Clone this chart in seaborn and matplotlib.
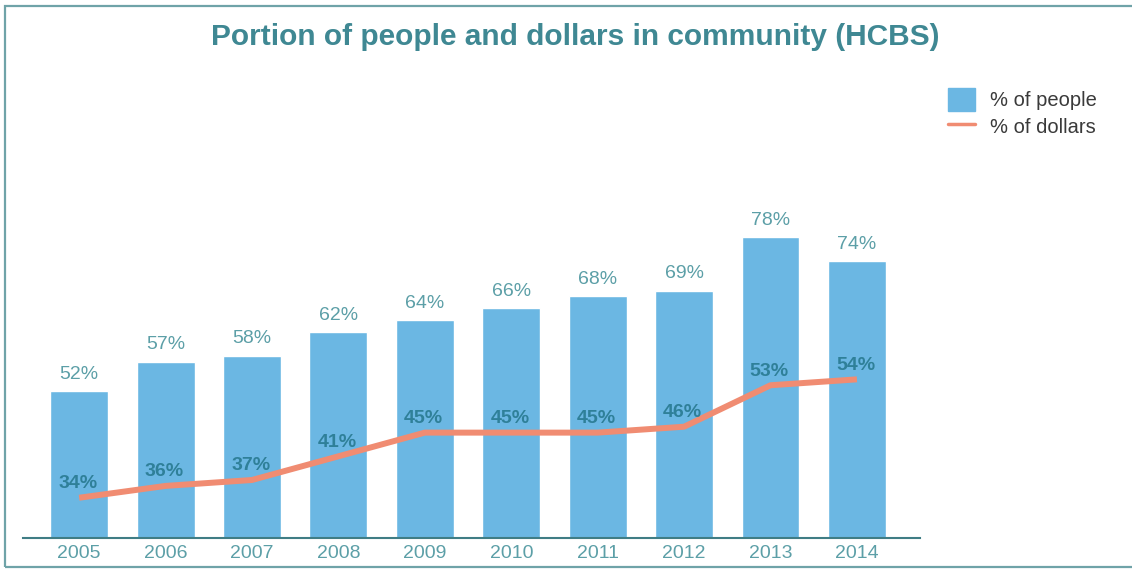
import matplotlib
matplotlib.use("Agg")
import matplotlib.pyplot as plt
from matplotlib.patches import Rectangle, Patch
from matplotlib.lines import Line2D
import seaborn as sns

years = ["2005", "2006", "2007", "2008", "2009", "2010", "2011", "2012", "2013", "2014"]
pct_people = [52, 57, 58, 62, 64, 66, 68, 69, 78, 74]
pct_dollars = [34, 36, 37, 41, 45, 45, 45, 46, 53, 54]

sns.set_theme(style="white")
plt.rcParams["font.family"] = ["Liberation Sans", "DejaVu Sans"]

BAR = "#6bb7e3"
LINE = "#f08c72"
TEAL = "#3f8893"
LABEL_TEAL = "#5c9fa7"
DOLLAR_TEAL = "#2f8099"

W, H, DPI = 1132, 571, 100
fig = plt.figure(figsize=(W / DPI, H / DPI), dpi=DPI)
fig.patch.set_facecolor("white")

# axes placed in pixel terms: x from 23 to 920, baseline at 538
left, right, bottom, top = 23, 920, 571 - 538, 571 - 80
ax = fig.add_axes([left / W, bottom / H, (right - left) / W, (top - bottom) / H])

sns.barplot(x=years, y=pct_people, color=BAR, width=0.67, saturation=1,
            ax=ax, zorder=2)
sns.pointplot(x=years, y=pct_dollars, color=LINE, markers="", linestyles="-",
              ax=ax, zorder=3)
for ln in ax.lines:
    ln.set_linewidth(4.3)
    ln.set_solid_joinstyle("round")
    ln.set_solid_capstyle("butt")

ax.set_ylim(27.2, 27.2 + (538 - 80) / 5.92)
ax.set_xlim(-0.65, 9.73)

for i, v in enumerate(pct_people):
    ax.annotate(f"{v}%", (i, v), xytext=(0, 6), textcoords="offset points",
                ha="center", va="bottom", fontsize=14, color=LABEL_TEAL, zorder=4)
for i, v in enumerate(pct_dollars):
    ax.annotate(f"{v}%", (i, v), xytext=(-1, 4), textcoords="offset points",
                ha="center", va="bottom", fontsize=14, color=DOLLAR_TEAL,
                fontweight="bold", zorder=4)

ax.set_yticks([])
ax.set_ylabel("")
ax.set_xlabel("")
for s in ["top", "right", "left"]:
    ax.spines[s].set_visible(False)
ax.spines["bottom"].set_color("#3f7d85")
ax.spines["bottom"].set_linewidth(1.5)
ax.tick_params(axis="x", length=0, pad=5, labelsize=14, labelcolor=LABEL_TEAL)

fig.text(575 / W, 1 - 37 / H, "Portion of people and dollars in community (HCBS)",
         ha="center", va="center", fontsize=21.5, fontweight="bold", color=TEAL)

handles = [Patch(facecolor=BAR, edgecolor=BAR),
           Line2D([0], [0], color=LINE, lw=2.5)]
fig.legend(handles, ["% of people", "% of dollars"], loc="upper left",
           bbox_to_anchor=(948 / W, 1 - 88 / H), frameon=False, fontsize=14.5,
           labelcolor="#3a3a3a", handlelength=1.35, handleheight=1.35,
           handletextpad=0.75, labelspacing=0.2, borderpad=0, borderaxespad=0)

# thin frame around the whole chart
fig.patches.append(Rectangle((5 / W, 4 / H), (W + 10) / W, (H - 10) / H,
                             transform=fig.transFigure, fill=False,
                             edgecolor="#6fa3a8", linewidth=1.6))

fig.savefig("out.png", dpi=DPI)
